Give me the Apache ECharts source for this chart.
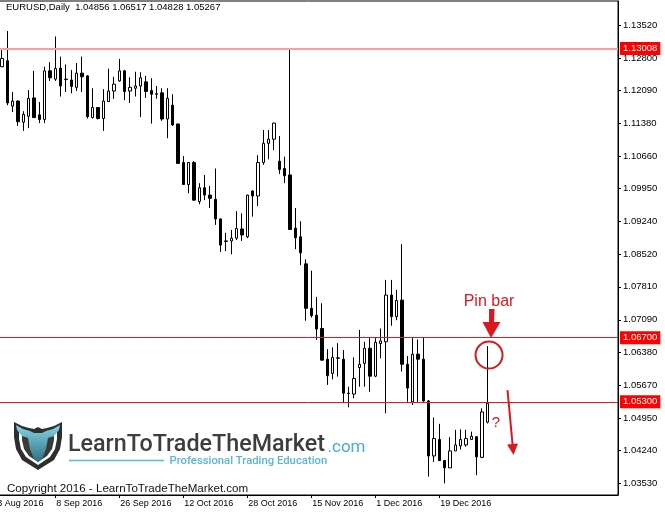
<!DOCTYPE html>
<html><head><meta charset="utf-8">
<script src="https://cdn.jsdelivr.net/npm/echarts@6/dist/echarts.min.js"></script>
<style>html,body{margin:0;padding:0;background:#fff}#c{width:665px;height:513px}</style>
</head><body><div id="c"></div>
<script>
// ---- data ----
const categories = [
 '23 Aug 2016','24 Aug 2016','25 Aug 2016','26 Aug 2016','29 Aug 2016','30 Aug 2016','31 Aug 2016',
 '1 Sep 2016','2 Sep 2016','5 Sep 2016','6 Sep 2016','7 Sep 2016','8 Sep 2016','9 Sep 2016','12 Sep 2016',
 '13 Sep 2016','14 Sep 2016','15 Sep 2016','16 Sep 2016','19 Sep 2016','20 Sep 2016','21 Sep 2016','22 Sep 2016',
 '23 Sep 2016','26 Sep 2016','27 Sep 2016','28 Sep 2016','29 Sep 2016','30 Sep 2016',
 '3 Oct 2016','4 Oct 2016','5 Oct 2016','6 Oct 2016','7 Oct 2016','10 Oct 2016','11 Oct 2016','12 Oct 2016',
 '13 Oct 2016','14 Oct 2016','17 Oct 2016','18 Oct 2016','19 Oct 2016','20 Oct 2016','21 Oct 2016','24 Oct 2016',
 '25 Oct 2016','26 Oct 2016','27 Oct 2016','28 Oct 2016','31 Oct 2016',
 '1 Nov 2016','2 Nov 2016','3 Nov 2016','4 Nov 2016','7 Nov 2016','8 Nov 2016','9 Nov 2016','10 Nov 2016',
 '11 Nov 2016','14 Nov 2016','15 Nov 2016','16 Nov 2016','17 Nov 2016','18 Nov 2016','21 Nov 2016','22 Nov 2016',
 '23 Nov 2016','24 Nov 2016','25 Nov 2016','28 Nov 2016','29 Nov 2016','30 Nov 2016',
 '1 Dec 2016','2 Dec 2016','5 Dec 2016','6 Dec 2016','7 Dec 2016','8 Dec 2016','9 Dec 2016','12 Dec 2016',
 '13 Dec 2016','14 Dec 2016','15 Dec 2016','16 Dec 2016','19 Dec 2016','20 Dec 2016','21 Dec 2016','22 Dec 2016',
 '23 Dec 2016','26 Dec 2016','27 Dec 2016','28 Dec 2016','29 Dec 2016','30 Dec 2016'
];
const emptySlotsRight = 24;
const dateTickLabels = ['23 Aug 2016','8 Sep 2016','26 Sep 2016','12 Oct 2016','28 Oct 2016','15 Nov 2016','1 Dec 2016','19 Dec 2016'];
const priceTicks = [1.0353,1.0424,1.0495,1.0567,1.0638,1.0709,1.0781,1.0852,1.0924,1.0995,1.1066,1.1138,1.1209,1.1280,1.1352];
const levels = [1.13008, 1.06700, 1.05300];

const opens = [null,null,
 1.1261,1.1274,1.1175,1.1186,1.1140,1.1153,1.1193,1.1156,1.1146,1.1252,1.1234,1.1258,1.1234,1.1232,1.1216,1.1247,
 1.1241,1.1150,1.1172,1.1148,1.1185,1.1208,1.1230,1.1252,1.1208,1.1214,1.1219,1.1228,1.1209,1.1202,1.1204,1.1147,
 1.1177,1.1136,1.1052,1.1004,1.1052,1.0967,1.0997,1.0981,1.0972,1.0929,1.0881,1.0881,1.0887,1.0907,1.0890,1.0990,
 1.0979,1.1052,1.1094,1.1103,1.1055,1.1039,1.1025,1.0909,1.0890,1.0831,1.0734,1.0719,1.0690,1.0623,1.0592,1.0625,
 1.0623,1.0549,1.0547,1.0605,1.0614,1.0647,1.0586,1.0657,1.0661,1.0763,1.0716,1.0752,1.0612,1.0530,1.0634,1.0623,
 1.0532,1.0412,1.0448,1.0402,1.0386,1.0423,1.0434,1.0436,1.0448,1.0454,1.0409,1.04856];
const highs = [null,null,
 1.1297,1.1339,1.1206,1.1188,1.1164,1.1210,1.1252,1.1184,1.1261,1.1271,1.1327,1.1283,1.1266,1.1254,1.1269,1.1283,
 1.1243,1.1214,1.1173,1.1212,1.1257,1.1239,1.1278,1.1254,1.1238,1.1250,1.1249,1.1241,1.1236,1.1219,1.1214,1.1214,
 1.1201,1.1137,1.1066,1.1053,1.1055,1.1007,1.1025,1.1001,1.1039,1.0930,1.0899,1.0905,1.0946,1.0941,1.0982,1.0991,
 1.1068,1.1123,1.1123,1.1139,1.1110,1.1065,1.13008,1.0953,1.0924,1.0841,1.0816,1.0759,1.0745,1.0645,1.0649,1.0658,
 1.0643,1.0563,1.0627,1.0687,1.0661,1.0669,1.0669,1.0690,1.0796,1.0796,1.0774,1.0874,1.0630,1.0670,1.0666,1.0671,
 1.0534,1.0496,1.0482,1.0403,1.0453,1.0469,1.0470,1.0469,1.0465,1.0455,1.0516,1.06517];
const lows = [null,null,
 1.1260,1.1177,1.1162,1.1132,1.1121,1.1127,1.1149,1.1138,1.1138,1.1230,1.1230,1.1196,1.1206,1.1203,1.1208,1.1206,
 1.1148,1.1148,1.1146,1.1121,1.1184,1.1191,1.1228,1.1188,1.1182,1.1196,1.1151,1.1193,1.1137,1.1191,1.1143,1.1105,
 1.1132,1.1049,1.1003,1.0985,1.0969,1.0961,1.0970,1.0953,1.0916,1.0857,1.0859,1.0852,1.0883,1.0881,1.0887,1.0934,
 1.0957,1.1047,1.1059,1.1079,1.1027,1.1007,1.0905,1.0863,1.0828,1.0707,1.0714,1.0665,1.0620,1.0567,1.0579,1.0585,
 1.0527,1.0518,1.0538,1.0563,1.0563,1.0552,1.0584,1.0625,1.0505,1.0696,1.0708,1.0596,1.0530,1.0523,1.0530,1.0530,
 1.0367,1.0399,1.0401,1.0352,1.0386,1.0423,1.0426,1.0432,1.0447,1.0370,1.0407,1.04828];
const closes = [null,null,
 1.1279,1.1182,1.1186,1.1141,1.1157,1.1192,1.1150,1.1146,1.1252,1.1237,1.1257,1.1219,1.1233,1.1218,1.1247,1.1239,
 1.1152,1.1172,1.1148,1.1186,1.1208,1.1223,1.1252,1.1207,1.1216,1.1219,1.1237,1.1207,1.1201,1.1201,1.1147,1.1192,
 1.1134,1.1050,1.1004,1.1052,1.0970,1.0997,1.0981,1.0974,1.0929,1.0872,1.0880,1.0887,1.0908,1.0894,1.0981,1.0979,
 1.1052,1.1094,1.1103,1.1138,1.1037,1.1023,1.0906,1.0888,1.0855,1.0734,1.0718,1.0689,1.0621,1.0587,1.0627,1.0626,
 1.0549,1.0548,1.0581,1.0612,1.0647,1.0586,1.0660,1.0663,1.0763,1.0716,1.0751,1.0612,1.0560,1.0634,1.0623,1.0532,
 1.0412,1.0450,1.0402,1.0386,1.0423,1.0436,1.0448,1.0450,1.0455,1.0410,1.0508,1.05267];

// ---- chart ----
const xData = categories.concat(Array.from({length: emptySlotsRight}, (_, k) => 'slot' + (k + 1)));
const ohlc = opens.map((o, i) => o == null ? ['-','-','-','-'] : [o, closes[i], lows[i], highs[i]]);
const isDateTick = (idx, val) => dateTickLabels.indexOf(val) >= 0;
const lastIdx = opens.length - 1;
const f5 = v => Number(v).toFixed(5);
const FONT = 'Liberation Sans, Arial, sans-serif';
const RED = '#d8191e';

const chart = echarts.init(document.getElementById('c'));
chart.setOption({
  animation: false,
  backgroundColor: '#ffffff',
  grid: { left: -11.333, right: 47, top: 1, bottom: 18, show: true, borderColor: '#000', borderWidth: 1,
          backgroundColor: 'transparent', containLabel: false, outerBoundsMode: 'none' },
  xAxis: {
    type: 'category', data: xData, boundaryGap: true,
    axisLine: { show: true, lineStyle: { color: '#000', width: 1 } },
    axisTick: { show: true, alignWithLabel: true, interval: isDateTick, length: 3, lineStyle: { color: '#000' } },
    axisLabel: { show: true, interval: isDateTick, align: 'left', margin: 4, padding: [0,0,0,1],
                 color: '#000', fontSize: 9, fontFamily: FONT },
    splitLine: { show: false }
  },
  yAxis: {
    type: 'value', position: 'right', scale: true,
    min: 1.032683, max: 1.140435,
    axisLine: { show: true, lineStyle: { color: '#000', width: 1 } },
    axisTick: { show: true, length: 3, customValues: priceTicks, lineStyle: { color: '#000' } },
    axisLabel: { show: true, customValues: priceTicks, formatter: v => f5(v), margin: 5,
                 color: '#000', fontSize: 9.5, fontFamily: FONT },
    splitLine: { show: false }
  },
  series: [{
    type: 'candlestick',
    data: ohlc,
    barWidth: 3,
    itemStyle: { color: '#ffffff', color0: '#000000', borderColor: '#000000', borderColor0: '#000000',
                 borderColorDoji: '#000000', borderWidth: 1 },
    markLine: {
      silent: true, symbol: ['none','none'], animation: false, precision: 5,
      label: { show: true, position: 'end', distance: 2, formatter: p => f5(p.value),
               color: '#fff', backgroundColor: '#ff0000', padding: [2,3,1,3], fontSize: 9.5, fontFamily: FONT },
      data: levels.map((v, k) => ({ yAxis: v,
        lineStyle: { color: k === 0 ? '#ff9c9c' : '#e4191c', width: k === 0 ? 2 : 1, type: 'solid' } }))
    }
  }]
});

// annotations anchored to the pin bar
const base = chart.convertToPixel({ xAxisIndex: 0, yAxisIndex: 0 }, [lastIdx, highs[lastIdx]]);
const bx = base[0], by = base[1];
const ax = bx + 4.2;
const tA = [bx + 20.2, by + 44], tip = [bx + 26.2, by + 109];
const dx = tip[0] - tA[0], dy = tip[1] - tA[1], L = Math.hypot(dx, dy);
const ux = dx / L, uy = dy / L, nx = uy, ny = -ux;
const hb = [tip[0] - 11 * ux, tip[1] - 11 * uy];

const title = `EURUSD,Daily  ${f5(opens[lastIdx])} ${f5(highs[lastIdx])} ${f5(lows[lastIdx])} ${f5(closes[lastIdx])}`;

const LX = 14, LY = 419;
const P = pts => pts.map(p => [LX + p[0], LY + p[1]]);

chart.setOption({
  graphic: [
    { type: 'text', z: 100, x: 6, y: 7.5, style: { text: title, font: '9.5px ' + FONT, fill: '#000', verticalAlign: 'middle' } },
    // pin bar annotation
    { type: 'text', z: 100, x: bx + 1.7, y: by - 44, style: { text: 'Pin bar', font: '16px ' + FONT, fill: RED, align: 'center', verticalAlign: 'middle' } },
    { type: 'polygon', z: 100, shape: { points: [[ax - 2.5, by - 37], [ax + 3, by - 37], [ax + 2.5, by - 24], [ax + 9, by - 24], [ax - 0.5, by - 8], [ax - 9, by - 24], [ax - 2.5, by - 24]] }, style: { fill: RED } },
    { type: 'circle', z: 100, shape: { cx: bx + 1.7, cy: by + 9, r: 13.5 }, style: { fill: 'none', stroke: RED, lineWidth: 2 } },
    { type: 'text', z: 100, x: bx + 8.7, y: by + 77, style: { text: '?', font: '15px ' + FONT, fill: RED, align: 'center', verticalAlign: 'middle' } },
    { type: 'line', z: 100, shape: { x1: tA[0], y1: tA[1], x2: hb[0], y2: hb[1] }, style: { stroke: RED, lineWidth: 2 } },
    { type: 'polygon', z: 100, shape: { points: [tip, [hb[0] + 5.5 * nx, hb[1] + 5.5 * ny], [hb[0] - 5.5 * nx, hb[1] - 5.5 * ny]] }, style: { fill: RED } },
    // logo
    { type: 'polygon', z: 90, shape: { points: P([[0,3],[8,7],[15,9],[20,10],[24,8],[28,10],[33,9],[40,7],[48,3],[48,18],[46,30],[40,41],[24,51],[8,41],[2,30],[0,18]]) }, style: { fill: '#2e2e2e' } },
    { type: 'polygon', z: 91, shape: { points: P([[5,12],[24,16],[43,12],[43,20],[41,30],[36,38],[24,46],[12,38],[7,30],[5,20]]) }, style: { fill: '#ffffff' } },
    { type: 'polygon', z: 91, shape: { points: P([[8,15],[24,19],[40,15],[40,21],[38,30],[33,37],[24,43],[15,37],[10,30],[8,21]]) }, style: { fill: '#3a3a3a' } },
    { type: 'polygon', z: 92, shape: { points: P([[2,6],[9,10],[16,12],[20,14],[28,14],[32,12],[39,10],[46,6],[45,11],[40,17],[34,19],[32,30],[28,40],[24,43],[20,40],[16,30],[14,19],[8,17],[3,11]]) },
      style: { fill: new echarts.graphic.LinearGradient(0, 0, 0, 1, [{ offset: 0, color: '#86d3e6' }, { offset: 1, color: '#2f6f82' }]) } },
    { type: 'text', z: 90, x: 68, y: 445, style: { text: 'LearnToTradeTheMarket', font: '500 23.3px Roboto, ' + FONT, fill: '#3d3d3d', verticalAlign: 'middle' } },
    { type: 'text', z: 90, x: 327.5, y: 447.5, style: { text: '.com', font: '17px Roboto, ' + FONT, fill: '#45acd2', verticalAlign: 'middle' } },
    { type: 'line', z: 90, shape: { x1: 69, y1: 460.5, x2: 164, y2: 460.5 }, style: { stroke: '#5ab6d8', lineWidth: 1.5 } },
    { type: 'text', z: 90, x: 169.5, y: 461, style: { text: 'Professional Trading Education', font: '500 11.3px Roboto, ' + FONT, fill: '#5ab6d8', verticalAlign: 'middle' } },
    { type: 'text', z: 90, x: 7, y: 489, style: { text: 'Copyright 2016 - LearnToTradeTheMarket.com', font: '11.6px ' + FONT, fill: '#111', verticalAlign: 'middle' } }
  ]
});
</script>
</body></html>
